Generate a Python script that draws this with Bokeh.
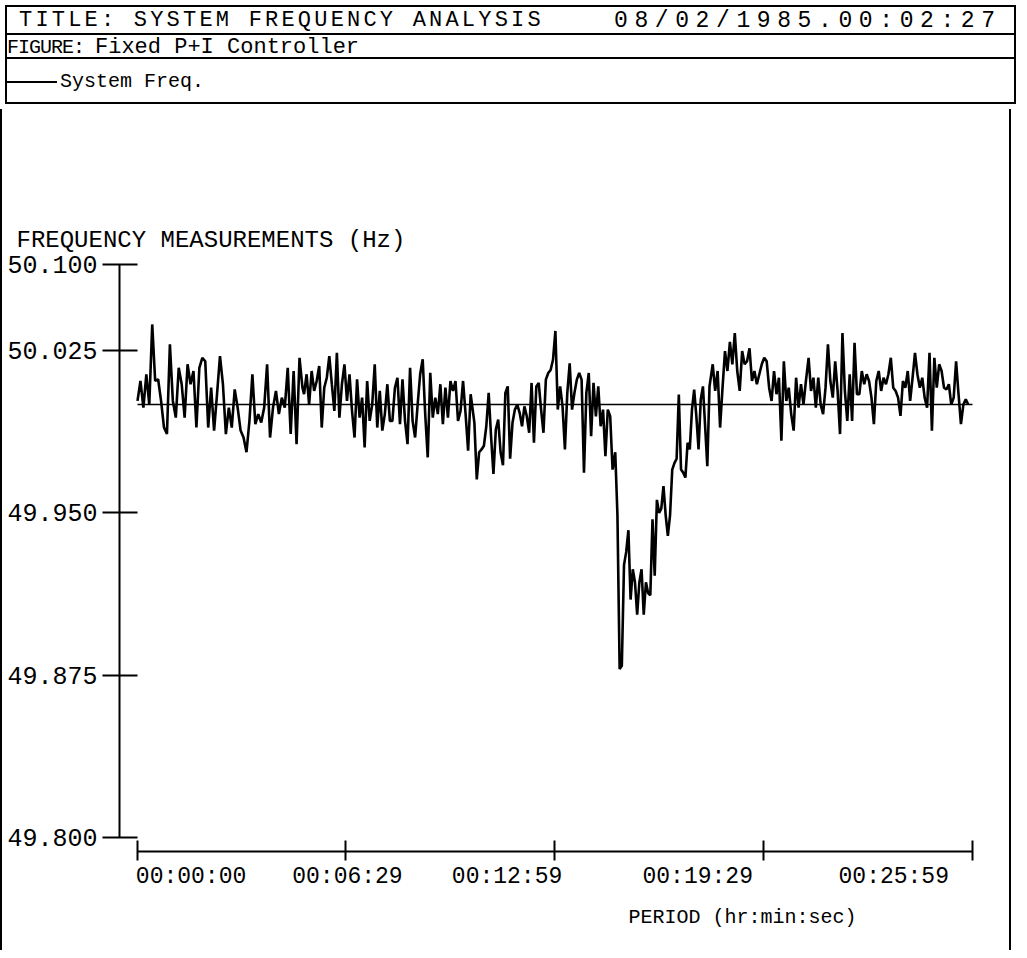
import numpy as np
from bokeh.plotting import figure
from bokeh.models import Div, FixedTicker, LinearAxis, Range1d, Title
from bokeh.layouts import column
from bokeh.embed import file_html
from bokeh.resources import INLINE

FONT = "Liberation Mono"

# ---- data ----
# time span (s) of each run of readings
seg_start_s = [0, 311, 629, 892, 1074, 1253]
seg_end_s = [308, 622, 887, 1068, 1248, 1551]

freq_seg1 = [50.0017, 50.0109, 49.9986, 50.0140, 50.0000, 50.0370, 50.0109, 50.0117, 50.0017, 49.9894,
             49.9864, 50.0278, 50.0017, 49.9940, 50.0170, 50.0094, 49.9940, 50.0186, 50.0094, 50.0155,
             49.9894, 50.0170, 50.0216, 50.0200, 49.9894, 50.0078, 49.9880, 50.0048, 50.0224, 50.0094,
             49.9864, 49.9986, 49.9894, 50.0070, 49.9986, 49.9880, 49.9848, 49.9780, 49.9925, 50.0140,
             49.9910, 49.9956, 49.9917, 49.9986, 50.0186, 49.9848, 49.9986, 50.0063, 49.9956, 50.0032,
             49.9986, 50.0170, 49.9864, 50.0155, 49.9817, 50.0216, 50.0078]
freq_seg2 = [50.0048, 50.0140, 50.0000, 50.0155, 50.0063, 50.0109, 50.0178, 49.9894, 50.0078, 50.0124,
             50.0224, 50.0094, 49.9971, 50.0239, 49.9940, 50.0094, 50.0186, 50.0017, 50.0140, 49.9971,
             49.9848, 50.0117, 49.9940, 50.0032, 49.9802, 50.0109, 49.9925, 50.0000, 50.0186, 49.9894,
             50.0063, 49.9880, 49.9956, 50.0094, 49.9925, 49.9925, 50.0078, 50.0124, 49.9910, 50.0117,
             49.9925, 49.9817, 50.0170, 49.9925, 49.9848, 50.0000, 50.0140, 50.0209, 49.9956, 49.9756,
             50.0147, 49.9940, 50.0032, 49.9956, 50.0094, 49.9910, 50.0078, 49.9940, 50.0109, 50.0063,
             50.0109, 49.9925, 49.9971, 50.0109, 49.9956, 49.9787, 50.0048]
freq_seg3 = [49.9916, 49.9655, 49.9780, 49.9793, 49.9810, 49.9900, 50.0054, 49.9854, 49.9680, 49.9885,
             49.9931, 49.9780, 49.9720, 50.0054, 50.0084, 49.9750, 49.9916, 49.9977, 50.0000, 49.9962,
             49.9900, 49.9992, 49.9946, 49.9870, 50.0100, 49.9824, 50.0084, 50.0100, 49.9977, 49.9870,
             50.0115, 50.0146, 50.0160, 50.0207, 50.0340, 49.9977, 50.0084, 49.9992, 49.9793, 50.0054,
             50.0190, 49.9977, 50.0054, 50.0115, 50.0146, 50.0115, 49.9686, 50.0054, 50.0146, 49.9854,
             50.0100, 49.9946, 50.0084, 49.9900, 49.9977, 49.9762, 49.9977, 49.9946, 49.9700]
freq_seg4 = [49.9780, 49.9490, 49.8780, 49.8794, 49.9260, 49.9320, 49.9420, 49.9100, 49.9240, 49.9180,
             49.9030, 49.9180, 49.9240, 49.9030, 49.9180, 49.9130, 49.9120, 49.9470, 49.9210, 49.9560,
             49.9500, 49.9520, 49.9624, 49.9490, 49.9394, 49.9490, 49.9700, 49.9730, 49.9750, 50.0046,
             49.9700, 49.9686, 49.9663, 49.9824, 49.9793, 49.9977, 50.0069, 49.9946, 49.9793, 50.0023,
             50.0084, 49.9900, 49.9716, 50.0084]
freq_seg5 = [50.0186, 50.0063, 50.0155, 49.9894, 50.0078, 50.0247, 50.0155, 50.0290, 50.0186, 50.0330,
             50.0155, 50.0063, 50.0247, 50.0186, 50.0200, 50.0260, 50.0109, 50.0155, 50.0094, 50.0140,
             50.0186, 50.0216, 50.0200, 50.0078, 50.0017, 50.0155, 50.0048, 50.0124, 49.9833, 50.0200,
             50.0017, 50.0078, 49.9956, 49.9880, 50.0124, 49.9986, 50.0094, 50.0000, 50.0109]
freq_seg6 = [50.0216, 50.0063, 50.0124, 49.9986, 50.0124, 50.0000, 49.9956, 50.0078, 50.0278, 50.0109,
             50.0032, 50.0200, 50.0063, 49.9864, 50.0330, 50.0063, 49.9925, 50.0140, 49.9925, 50.0285,
             50.0048, 50.0048, 50.0155, 50.0094, 50.0140, 50.0109, 50.0032, 49.9910, 50.0109, 50.0155,
             50.0063, 50.0124, 50.0094, 50.0140, 50.0216, 50.0078, 50.0063, 50.0032, 49.9948, 50.0109,
             50.0078, 50.0155, 50.0017, 50.0124, 50.0239, 50.0140, 50.0078, 50.0124, 50.0032, 49.9986,
             50.0239, 49.9880, 50.0216, 50.0078, 50.0186, 50.0155, 50.0078, 50.0070, 50.0094, 50.0000,
             50.0032, 50.0200, 50.0048, 49.9910, 50.0000, 50.0025, 50.0000]

setpoint_s = [0, 1559]
setpoint_hz = [50.0, 50.0]

xtick_s = [0, 389, 779, 1169, 1559]
xtick_labels = ["00:00:00", "00:06:29", "00:12:59", "00:19:29", "00:25:59"]
ytick_hz = [49.800, 49.875, 49.950, 50.025, 50.0647]
ytick_labels = ["49.800", "49.875", "49.950", "50.025", "50.100"]

# where the plotter printed the time labels along the axis (s); they sit apart from the tick marks
xlabel_anchor_s = [100, 392, 690, 1046, 1412]

segments = [freq_seg1, freq_seg2, freq_seg3, freq_seg4, freq_seg5, freq_seg6]
t = np.concatenate([np.linspace(a, b, len(s)) for a, b, s in zip(seg_start_s, seg_end_s, segments)])
f = np.concatenate(segments)

# ---- header (three boxed rows) ----
base = f"font-family:'{FONT}';color:#000;white-space:nowrap;position:absolute;"
header_html = f"""
<div style="position:relative;width:1011px;height:99px;box-sizing:border-box;border:2px solid #000;background:#fff;">
  <div style="position:absolute;left:0;top:0;width:1007px;height:28px;border-bottom:2px solid #000;">
    <span style="{base}font-size:22px;left:12px;top:0;line-height:28px;letter-spacing:3.2px;">TITLE: SYSTEM FREQUENCY ANALYSIS</span>
    <span style="{base}font-size:23px;left:607px;top:0;line-height:28px;letter-spacing:6.6px;">08/02/1985.00:02:27</span>
  </div>
  <div style="position:absolute;left:0;top:30px;width:1007px;height:22px;border-bottom:2px solid #000;">
    <span style="{base}font-size:20px;left:0;top:0;line-height:22px;letter-spacing:-1px;">FIGURE:</span>
    <span style="{base}font-size:22px;left:88px;top:0;line-height:22px;">Fixed P+I Controller</span>
  </div>
  <div style="position:absolute;left:0;top:54px;width:1007px;height:41px;">
    <span style="position:absolute;left:0;top:20px;width:50px;height:0;border-top:2px solid #000;"></span>
    <span style="{base}font-size:20px;left:53px;top:0;line-height:41px;">System Freq.</span>
  </div>
</div>
"""
header = Div(text=header_html, width=1011, height=99)

# ---- main plot ----
p = figure(width=1011, height=841, output_backend="svg", toolbar_location=None,
           x_range=Range1d(-33.61, 1577.7), y_range=Range1d(49.7937, 50.0679),
           x_axis_type=None, y_axis_type=None,
           min_border_left=119, min_border_right=29, min_border_top=148, min_border_bottom=99,
           title="FREQUENCY MEASUREMENTS (Hz)")
p.outline_line_color = None
p.border_fill_color = None
p.background_fill_color = None
p.styles = {"box-shadow": "inset 2px 0 0 0 #000, inset -2px 0 0 0 #000"}

p.title.align = "left"
p.title.offset = -103
p.title.standoff = 7
p.title.text_font = FONT
p.title.text_font_size = "24px"
p.title.text_font_style = "normal"
p.title.text_color = "#000"

yaxis = LinearAxis(ticker=FixedTicker(ticks=ytick_hz),
                   major_label_overrides=dict(zip(ytick_hz, ytick_labels)),
                   bounds=(ytick_hz[0], ytick_hz[-1]))
yaxis.major_tick_in = 18
yaxis.major_tick_out = 17
yaxis.major_label_standoff = 5
yaxis.major_label_text_font_size = "25px"

# axis line + tick marks (no printed labels)
xaxis = LinearAxis(ticker=FixedTicker(ticks=xtick_s),
                   major_label_overrides={v: "" for v in xtick_s},
                   bounds=(xtick_s[0], xtick_s[-1]))
xaxis.major_tick_in = 11
xaxis.major_tick_out = 9
xaxis.major_label_standoff = 0
xaxis.major_label_text_font_size = "0px"

for ax in (xaxis, yaxis):
    ax.axis_line_width = 2
    ax.axis_line_color = "#000"
    ax.major_tick_line_width = 2
    ax.major_tick_line_color = "#000"
    ax.minor_tick_line_color = None
    ax.major_label_text_font = FONT
    ax.major_label_text_color = "#000"

# the printed time labels
xlab = LinearAxis(ticker=FixedTicker(ticks=xlabel_anchor_s),
                  major_label_overrides=dict(zip(xlabel_anchor_s, xtick_labels)),
                  axis_line_color=None, major_tick_line_color=None, minor_tick_line_color=None,
                  major_tick_in=0, major_tick_out=0, major_label_standoff=3,
                  major_label_text_font=FONT, major_label_text_font_size="23px",
                  major_label_text_color="#000")

p.add_layout(yaxis, "left")
p.add_layout(xaxis, "below")
p.add_layout(xlab, "below")

p.add_layout(Title(text="PERIOD (hr:min:sec)", align="left", offset=509, standoff=23,
                   text_font=FONT, text_font_size="20px", text_font_style="normal",
                   text_color="#000"), "below")

p.line(setpoint_s, setpoint_hz, line_color="#000", line_width=1.5)
p.line(t, f, line_color="#000", line_width=2.6)

layout = column(header, p, spacing=0)
open("out.html", "w").write(file_html(layout, INLINE))
